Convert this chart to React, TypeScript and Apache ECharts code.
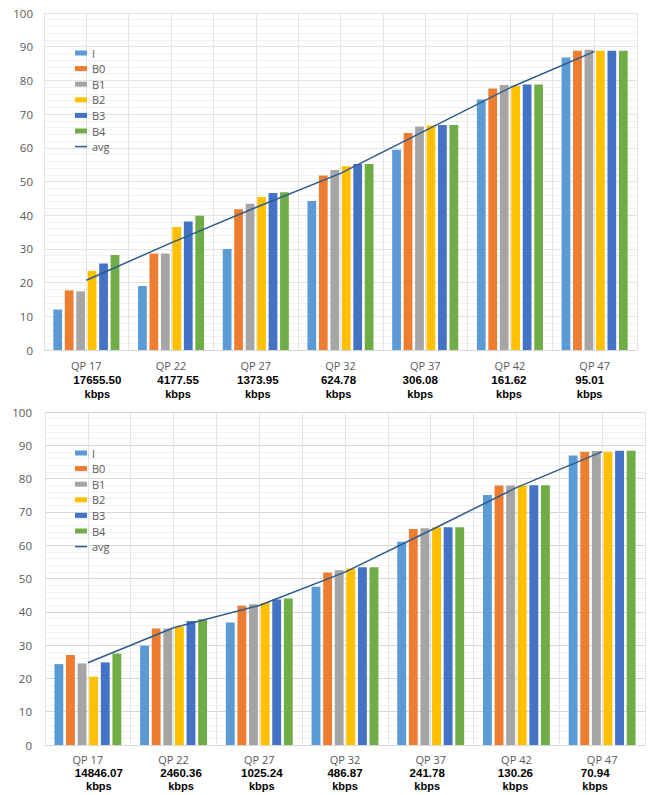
import React, { useEffect, useRef } from 'react';
import * as echarts from 'echarts';

const categories = ['QP 17', 'QP 22', 'QP 27', 'QP 32', 'QP 37', 'QP 42', 'QP 47'];
const seriesNames = ['I', 'B0', 'B1', 'B2', 'B3', 'B4'];
const avgName = 'avg';

// Top chart
const topBitrates = ['17655.50', '4177.55', '1373.95', '624.78', '306.08', '161.62', '95.01'];
const topI = [12.0, 19.0, 30.0, 44.2, 59.4, 74.3, 86.8];
const topB0 = [17.7, 28.6, 41.8, 51.8, 64.4, 77.6, 88.8];
const topB1 = [17.4, 28.6, 43.4, 53.4, 66.3, 78.6, 89.1];
const topB2 = [23.5, 36.5, 45.4, 54.5, 66.6, 78.4, 88.8];
const topB3 = [25.7, 38.1, 46.6, 55.2, 66.8, 78.8, 88.8];
const topB4 = [28.2, 39.8, 46.8, 55.2, 66.8, 78.8, 88.8];
const topAvg = [20.7, 31.8, 42.3, 52.4, 65.1, 77.8, 88.6];

// Bottom chart
const bottomBitrates = ['14846.07', '2460.36', '1025.24', '486.87', '241.78', '130.26', '70.94'];
const bottomI = [24.3, 29.8, 36.8, 47.5, 61.0, 75.1, 86.9];
const bottomB0 = [27.0, 35.0, 41.8, 51.8, 64.9, 77.9, 88.1];
const bottomB1 = [24.5, 35.0, 42.3, 52.5, 65.1, 77.9, 88.3];
const bottomB2 = [20.5, 35.5, 42.7, 53.0, 65.4, 77.9, 88.1];
const bottomB3 = [24.8, 37.2, 43.7, 53.4, 65.4, 78.0, 88.4];
const bottomB4 = [27.5, 37.8, 44.0, 53.4, 65.4, 78.0, 88.4];
const bottomAvg = [24.7, 35.2, 41.9, 51.9, 64.5, 77.3, 88.1];

const yTicks = { min: 0, max: 100, interval: 10 };

// styling
const barColors = ['#5B9BD5', '#ED7D31', '#A5A5A5', '#FFC000', '#4472C4', '#70AD47'];
const avgColor = '#2F5B8C';
const topLabelNudge = [11, 7, 2, -2, -5, -1, -5];
const bottomLabelNudge = [11, 7.5, 2.5, 0, -3.5, -1, -7];

function buildOption(
  values: number[][],
  avg: number[],
  bitrates: string[],
  nudge: number[],
  layout: { left: number; right: number; top: number; bottom: number; yMargin: number; lineH: number },
  majorGrid: string
) {
  const rich: Record<string, any> = {
    q: { color: '#595959', fontSize: 11, lineHeight: layout.lineH, fontFamily: 'Open Sans' },
  };
  nudge.forEach((d, i) => {
    const pad = d >= 0 ? [0, 0, 0, 2 * d] : [0, -2 * d, 0, 0];
    rich['v' + i] = {
      color: '#000', fontWeight: 'bold', fontSize: 11.5, lineHeight: layout.lineH,
      fontFamily: 'Liberation Sans', padding: pad,
    };
    rich['k' + i] = {
      color: '#000', fontWeight: 'bold', fontSize: 11, lineHeight: layout.lineH,
      fontFamily: 'Liberation Sans', padding: pad,
    };
  });

  const barSeries = seriesNames.map((name, i) => ({
    name,
    type: 'bar',
    xAxisIndex: 0,
    data: values[i],
    itemStyle: { color: barColors[i] },
    barGap: '31%',
    barCategoryGap: '22%',
  }));

  return {
    animation: false,
    backgroundColor: '#ffffff',
    textStyle: { fontFamily: 'Open Sans' },
    grid: { left: layout.left, right: layout.right, top: layout.top, bottom: layout.bottom, containLabel: false },
    legend: {
      orient: 'vertical',
      left: 75,
      top: 47,
      padding: 0,
      itemWidth: 12,
      itemHeight: 5,
      itemGap: 3.6,
      itemTextGap: 2,
      symbolKeepAspect: true,
      textStyle: { color: '#595959', fontSize: 11, lineHeight: 12, fontFamily: 'Open Sans' },
      data: [
        ...seriesNames.map((n) => ({ name: n, icon: 'rect' })),
        { name: avgName, icon: 'path://M0,0H12V1.5H0Z' },
      ],
    },
    xAxis: [
      {
        type: 'category',
        data: categories,
        axisLine: { show: true, lineStyle: { color: '#D9D9D9' } },
        axisTick: { show: false },
        splitLine: { show: false },
        axisLabel: {
          interval: 0,
          margin: 8,
          formatter: (v: string, i: number) => `{q|${v}}\n{v${i}|${bitrates[i]}}\n{k${i}|kbps}`,
          rich,
        },
      },
      {
        type: 'value',
        min: 0,
        max: 14,
        interval: 1,
        position: 'bottom',
        axisLine: { show: false },
        axisTick: { show: false },
        axisLabel: { show: false },
        splitLine: { show: true, lineStyle: { color: '#E3E3E3', width: 1 } },
      },
    ],
    yAxis: {
      type: 'value',
      min: yTicks.min,
      max: yTicks.max,
      interval: yTicks.interval,
      axisLine: { show: false },
      axisTick: { show: false },
      axisLabel: { color: '#595959', fontSize: 11.5, margin: layout.yMargin, fontFamily: 'Open Sans' },
      splitLine: { show: true, lineStyle: { color: majorGrid } },
      minorTick: { show: false, splitNumber: 5 },
      minorSplitLine: { show: true, lineStyle: { color: '#F2F2F2' } },
    },
    series: [
      ...barSeries,
      {
        name: avgName,
        type: 'line',
        xAxisIndex: 0,
        data: avg,
        symbol: 'none',
        z: 5,
        lineStyle: { color: avgColor, width: 1.5 },
        itemStyle: { color: avgColor },
      },
    ],
  };
}

export default function App() {
  const topRef = useRef<HTMLDivElement>(null);
  const bottomRef = useRef<HTMLDivElement>(null);

  useEffect(() => {
    const top = echarts.init(topRef.current!, null, { renderer: 'svg' });
    const bottom = echarts.init(bottomRef.current!, null, { renderer: 'svg' });
    top.setOption(
      buildOption(
        [topI, topB0, topB1, topB2, topB3, topB4],
        topAvg,
        topBitrates,
        topLabelNudge,
        { left: 44, right: 17, top: 13, bottom: 50, yMargin: 11, lineH: 14.5 },
        '#E3E3E3'
      )
    );
    bottom.setOption(
      buildOption(
        [bottomI, bottomB0, bottomB1, bottomB2, bottomB3, bottomB4],
        bottomAvg,
        bottomBitrates,
        bottomLabelNudge,
        { left: 45, right: 9, top: 12, bottom: 50, yMargin: 13, lineH: 13 },
        '#D6D6D6'
      )
    );
    return () => {
      top.dispose();
      bottom.dispose();
    };
  }, []);

  return (
    <div style={{ position: 'fixed', left: 0, top: 0, width: 654, height: 795, background: '#fff' }}>
      <div ref={topRef} style={{ position: 'absolute', left: 0, top: 0, width: 654, height: 400 }} />
      <div ref={bottomRef} style={{ position: 'absolute', left: 0, top: 400, width: 654, height: 395 }} />
    </div>
  );
}
